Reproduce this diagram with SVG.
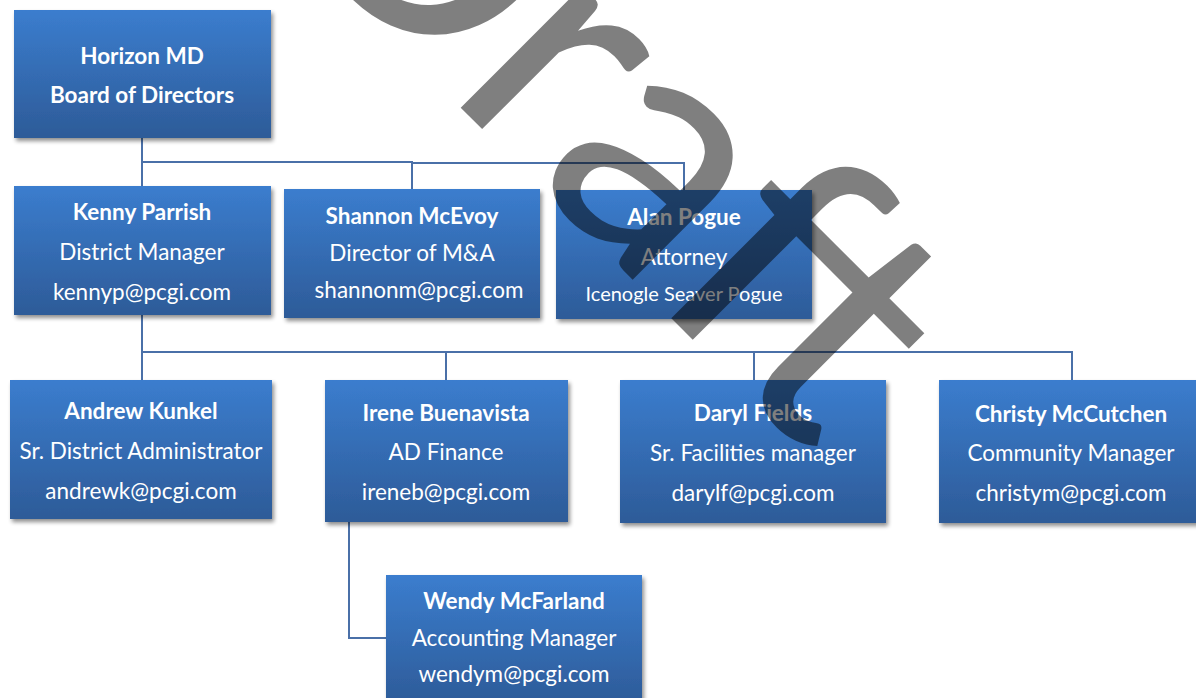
<svg xmlns="http://www.w3.org/2000/svg" width="1196" height="698" viewBox="0 0 1196 698">
<defs>
<linearGradient id="g" x1="0" y1="0" x2="0" y2="1">
<stop offset="0" stop-color="#3b7dce"/>
<stop offset="1" stop-color="#2d5b98"/>
</linearGradient>
<filter id="sh" x="-10%" y="-10%" width="125%" height="130%">
<feGaussianBlur in="SourceAlpha" stdDeviation="2"/>
<feOffset dx="2" dy="3" result="b"/>
<feComponentTransfer><feFuncA type="linear" slope="0.45"/></feComponentTransfer>
<feMerge><feMergeNode/><feMergeNode in="SourceGraphic"/></feMerge>
</filter>
</defs>
<style>
.box{fill:url(#g);filter:url(#sh)}
text{font-family:Lato,"Liberation Sans",sans-serif;fill:#fff;text-anchor:middle}
.n{font-weight:bold;font-size:22.5px}
.t{font-size:22.5px}
.s{font-size:20px}
.c{fill:none;stroke:#4a70a8;stroke-width:2}
.wm{font-family:Lato,"Liberation Sans",sans-serif;font-size:339px;fill:#000;fill-opacity:0.5;text-anchor:start}
</style>
<g id="connectors">
<path class="c" d="M142,138V186M142,162H412V189M412,163H684V190"/>
<path class="c" d="M142,315V380M142,352H1072V380M446,352V380M754,352V380"/>
<path class="c" d="M349,522V638H386"/>
</g>
<g id="n-horizon">
<rect class="box" x="14" y="10" width="257" height="128"/>
<text class="n" x="142" y="64">Horizon MD</text>
<text class="n" x="142" y="103">Board of Directors</text>
</g>
<g id="n-kenny">
<rect class="box" x="14" y="186" width="257" height="129"/>
<text class="n" x="142" y="220">Kenny Parrish</text>
<text class="t" x="142" y="260">District Manager</text>
<text class="t" x="142" y="300">kennyp@pcgi.com</text>
</g>
<g id="n-shannon">
<rect class="box" x="284" y="189" width="256" height="129"/>
<text class="n" x="412" y="224">Shannon McEvoy</text>
<text class="t" x="412" y="261">Director of M&amp;A</text>
<text class="t" x="419" y="298">shannonm@pcgi.com</text>
</g>
<g id="n-alan">
<rect class="box" x="556" y="190" width="256" height="129"/>
<text class="n" x="684" y="225">Alan Pogue</text>
<text class="t" x="684" y="265">Attorney</text>
<text class="s" x="684" y="301">Icenogle Seaver Pogue</text>
</g>
<g id="n-andrew">
<rect class="box" x="10" y="380" width="262" height="139"/>
<text class="n" x="141" y="419">Andrew Kunkel</text>
<text class="t" x="141" y="459">Sr. District Administrator</text>
<text class="t" x="141" y="499">andrewk@pcgi.com</text>
</g>
<g id="n-irene">
<rect class="box" x="325" y="380" width="243" height="142"/>
<text class="n" x="446" y="421">Irene Buenavista</text>
<text class="t" x="446" y="460">AD Finance</text>
<text class="t" x="446" y="500">ireneb@pcgi.com</text>
</g>
<g id="n-daryl">
<rect class="box" x="620" y="380" width="266" height="143"/>
<text class="n" x="753" y="421">Daryl Fields</text>
<text class="t" x="753" y="461">Sr. Facilities manager</text>
<text class="t" x="753" y="501">darylf@pcgi.com</text>
</g>
<g id="n-christy">
<rect class="box" x="939" y="380" width="264" height="143"/>
<text class="n" x="1071" y="422">Christy McCutchen</text>
<text class="t" x="1071" y="461">Community Manager</text>
<text class="t" x="1071" y="501">christym@pcgi.com</text>
</g>
<g id="n-wendy">
<rect class="box" x="386" y="575" width="256" height="130"/>
<text class="n" x="514" y="609">Wendy McFarland</text>
<text class="t" x="514" y="646">Accounting Manager</text>
<text class="t" x="514" y="682">wendym@pcgi.com</text>
</g>
<g id="watermark">
<text class="wm" transform="translate(264,-89) rotate(45)">Draft</text>
</g>
</svg>
